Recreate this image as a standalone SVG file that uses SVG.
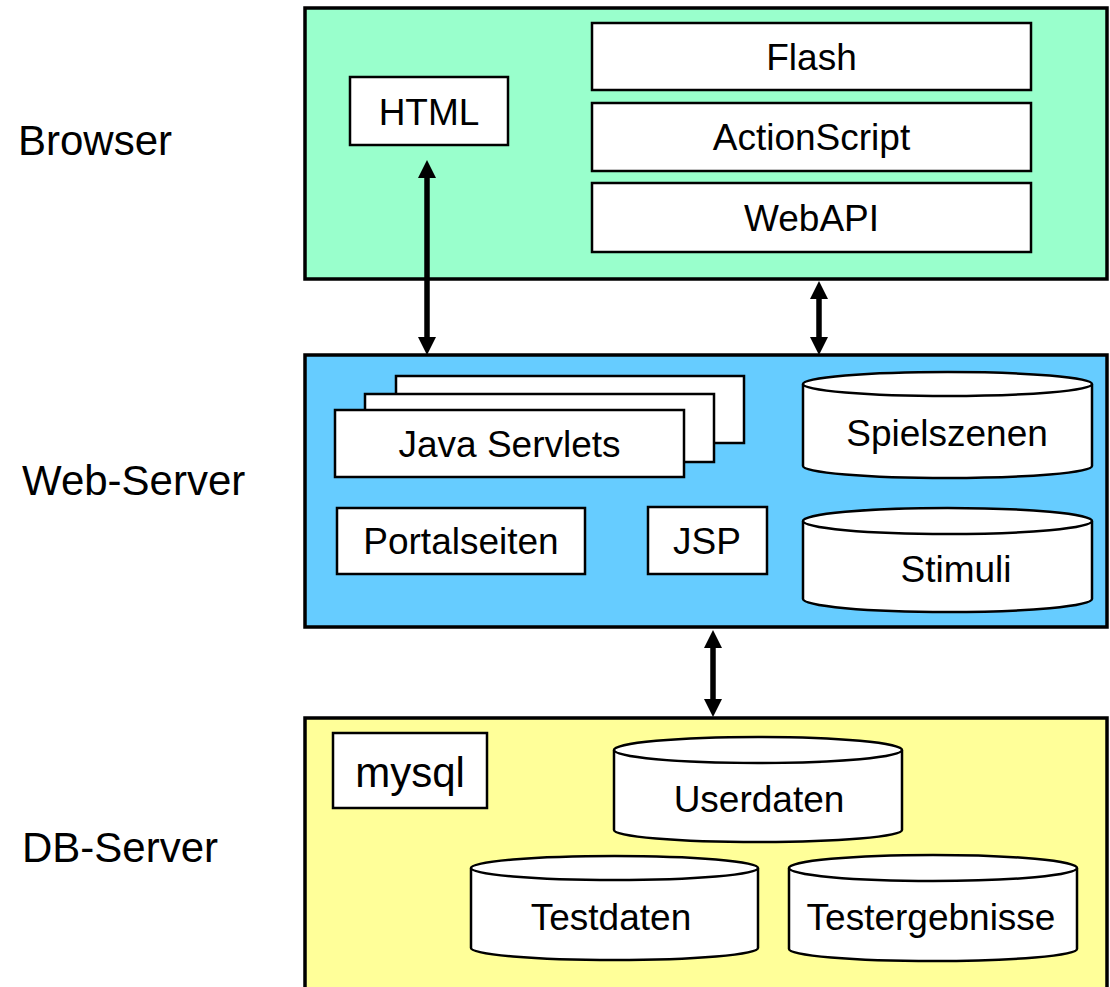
<svg xmlns="http://www.w3.org/2000/svg" width="1110" height="987" viewBox="0 0 1110 987">
<style>
text{font-family:"Liberation Sans",Arial,sans-serif;fill:#000}
.lbl{font-size:42px}
.t{font-size:37px;text-anchor:middle}
.big{font-size:42px}
.cont{stroke:#000;stroke-width:3.5}
.box{fill:#fff;stroke:#000;stroke-width:2.5}
.cyl{fill:#fff;stroke:#000;stroke-width:2.5}
.arr{stroke:#000;stroke-width:5.5;fill:none}
</style>
<defs>
<marker id="ah" viewBox="0 0 18 18" refX="8" refY="9" markerWidth="18" markerHeight="18" markerUnits="userSpaceOnUse" orient="auto-start-reverse">
<path d="M0,0 L18,9 L0,18 Z" fill="#000"/>
</marker>
</defs>
<rect width="1110" height="987" fill="#fff"/>
<g id="labels">
<text class="lbl" x="18" y="155">Browser</text>
<text class="lbl" x="22" y="495">Web-Server</text>
<text class="lbl" x="22" y="862">DB-Server</text>
</g>
<g id="browser">
<rect class="cont" x="305" y="8" width="802" height="271" fill="#99FFCC"/>
<g id="html"><rect class="box" x="350" y="77" width="158" height="68"/><text class="t" x="429" y="125">HTML</text></g>
<g id="flash"><rect class="box" x="592" y="23" width="439" height="67"/><text class="t" x="811.5" y="70">Flash</text></g>
<g id="actionscript"><rect class="box" x="592" y="103" width="439" height="68"/><text class="t" x="811.5" y="150">ActionScript</text></g>
<g id="webapi"><rect class="box" x="592" y="183" width="439" height="69"/><text class="t" x="811.5" y="231">WebAPI</text></g>
</g>
<g id="webserver">
<rect class="cont" x="305" y="355" width="802" height="272" fill="#66CCFF"/>
<g id="servlets">
<rect class="box" x="396" y="376" width="348" height="67"/>
<rect class="box" x="365" y="394" width="349" height="68"/>
<rect class="box" x="335" y="410" width="349" height="67"/>
<text class="t" x="509.5" y="457">Java Servlets</text>
</g>
<g id="portalseiten"><rect class="box" x="337" y="508" width="248" height="66"/><text class="t" x="461" y="554">Portalseiten</text></g>
<g id="jsp"><rect class="box" x="648" y="507" width="119" height="67"/><text class="t" x="707" y="554">JSP</text></g>
<g id="spielszenen">
<path class="cyl" d="M803,384 L803,466 A144.5,12 0 0 0 1092,466 L1092,384"/>
<ellipse class="cyl" cx="947.5" cy="384" rx="144.5" ry="12"/>
<text class="t" x="947" y="446">Spielszenen</text>
</g>
<g id="stimuli">
<path class="cyl" d="M803,521 L803,599 A144.5,13 0 0 0 1092,599 L1092,521"/>
<ellipse class="cyl" cx="947.5" cy="521" rx="144.5" ry="13"/>
<text class="t" x="956" y="582">Stimuli</text>
</g>
</g>
<g id="dbserver">
<rect class="cont" x="305" y="718" width="802" height="300" fill="#FFFF99"/>
<g id="mysql"><rect class="box" x="333" y="733" width="154" height="75"/><text class="t big" x="410" y="787">mysql</text></g>
<g id="userdaten">
<path class="cyl" d="M614,750 L614,830 A144,12 0 0 0 902,830 L902,750"/>
<ellipse class="cyl" cx="758" cy="750" rx="144" ry="13"/>
<text class="t" x="759" y="812">Userdaten</text>
</g>
<g id="testdaten">
<path class="cyl" d="M471,868 L471,948 A143.5,12 0 0 0 758,948 L758,868"/>
<ellipse class="cyl" cx="614.5" cy="868" rx="143.5" ry="12"/>
<text class="t" x="611" y="930">Testdaten</text>
</g>
<g id="testergebnisse">
<path class="cyl" d="M789,868 L789,949 A144,12 0 0 0 1077,949 L1077,868"/>
<ellipse class="cyl" cx="933" cy="868" rx="144" ry="13"/>
<text class="t" x="931" y="930">Testergebnisse</text>
</g>
</g>
<g id="connectors">
<line class="arr" x1="427" y1="170" x2="427" y2="345" marker-start="url(#ah)" marker-end="url(#ah)"/>
<line class="arr" x1="819" y1="291" x2="819" y2="345" marker-start="url(#ah)" marker-end="url(#ah)"/>
<line class="arr" x1="713" y1="640" x2="713" y2="707" marker-start="url(#ah)" marker-end="url(#ah)"/>
</g>
</svg>
